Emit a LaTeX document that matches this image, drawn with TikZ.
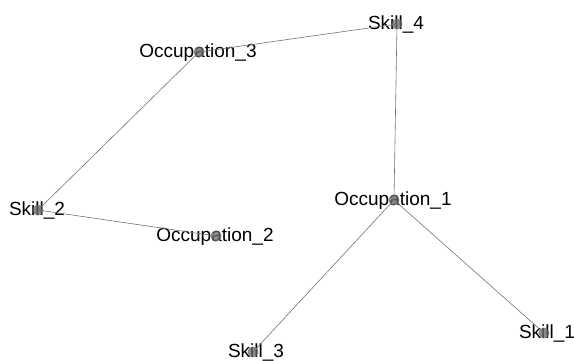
\documentclass[tikz,border=0pt]{standalone}
\usepackage{fontspec}
\setmainfont{Liberation Sans}
\begin{document}
\begin{tikzpicture}[x=1pt,y=-1pt,
  vertex/.style={circle,fill=black!60,fill opacity=0.75,inner sep=0pt,minimum size=11pt},
  tie/.style={draw=black!55,line width=0.6pt},
  lbl/.style={anchor=base,inner sep=0pt,font=\fontsize{19}{21}\selectfont,text=black}]
\useasboundingbox (0,0) rectangle (574,360);
% labels
\node[lbl] (lo3) at (198,57) {Occupation\_3};
\node[lbl] (ls4) at (396,29) {Skill\_4};
\node[lbl] (ls2) at (37,215) {Skill\_2};
\node[lbl] (lo2) at (215,241) {Occupation\_2};
\node[lbl] (lo1) at (393,205) {Occupation\_1};
\node[lbl] (ls1) at (547,338) {Skill\_1};
\node[lbl] (ls3) at (256,357) {Skill\_3};
% vertex positions
\node[vertex] (o3) at (199,52) {};
\node[vertex] (s4) at (397,24) {};
\node[vertex] (s2) at (38,210) {};
\node[vertex] (o2) at (216,236) {};
\node[vertex] (o1) at (394,200) {};
\node[vertex] (s1) at (544,333) {};
\node[vertex] (s3) at (253,352) {};
% ties
\draw[tie] (o3.center) -- (s4.center);
\draw[tie] (o3.center) -- (s2.center);
\draw[tie] (s2.center) -- (o2.center);
\draw[tie] (s4.center) -- (o1.center);
\draw[tie] (o1.center) -- (s3.center);
\draw[tie] (o1.center) -- (s1.center);
\end{tikzpicture}
\end{document}
